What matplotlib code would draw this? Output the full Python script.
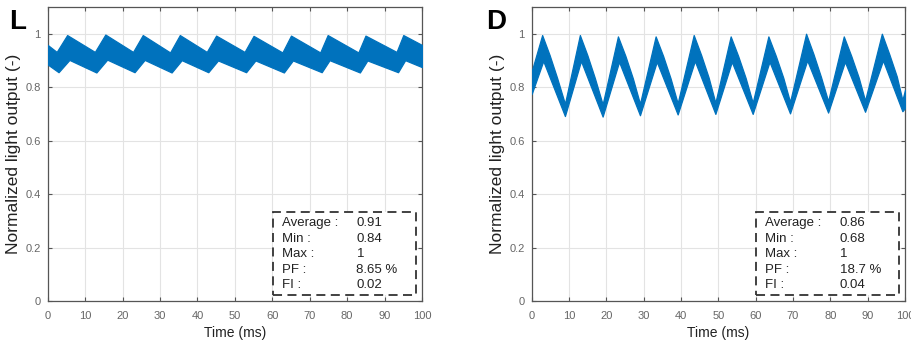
import matplotlib
matplotlib.use("Agg")
import matplotlib.pyplot as plt
from matplotlib.patches import Rectangle
import numpy as np

plt.rcParams['font.family'] = ['Liberation Sans', 'DejaVu Sans']

# ---------------- data ----------------
# Panel L: envelope of the noisy light output (top / bottom edges of the band)
L_t_top = [0, 2.4, 5.2, 12.6, 15.4, 22.8, 25.4, 32.7, 35.3, 42.5, 45.0,
           52.6, 55.0, 62.7, 65.0, 72.8, 74.8, 83.0, 84.9, 93.2, 95.0, 100]
L_top = [0.958, 0.932, 0.995, 0.932, 0.997, 0.932, 0.995, 0.930, 0.995, 0.932, 0.993,
         0.932, 0.992, 0.930, 0.993, 0.930, 0.995, 0.930, 0.993, 0.932, 0.995, 0.958]
L_t_bot = [0, 2.9, 5.8, 13.0, 15.9, 23.2, 25.9, 33.1, 35.8, 42.9, 45.5,
           53.0, 55.5, 63.1, 65.5, 73.2, 75.3, 83.4, 85.4, 93.6, 95.5, 100]
L_bot = [0.885, 0.856, 0.902, 0.855, 0.903, 0.856, 0.902, 0.855, 0.901, 0.856, 0.900,
         0.856, 0.900, 0.855, 0.900, 0.856, 0.901, 0.855, 0.900, 0.856, 0.901, 0.875]

# Panel D
D_t_top = [0,
           2.8, 4.8, 6.8, 8.9,
           12.9, 14.9, 16.9, 19.0,
           23.1, 25.1, 27.1, 29.0,
           33.2, 35.2, 37.2, 39.1,
           43.4, 45.4, 47.4, 49.2,
           53.3, 55.3, 57.3, 59.2,
           63.4, 65.4, 67.4, 69.2,
           73.5, 75.5, 77.5, 79.4,
           83.6, 85.6, 87.6, 89.3,
           93.8, 95.8, 97.8, 99.3,
           100]
D_top = [0.860,
         0.995, 0.920, 0.835, 0.738,
         0.995, 0.920, 0.835, 0.736,
         0.990, 0.917, 0.833, 0.738,
         0.990, 0.917, 0.833, 0.740,
         0.995, 0.920, 0.836, 0.742,
         0.990, 0.917, 0.835, 0.742,
         0.990, 0.917, 0.835, 0.745,
         1.000, 0.923, 0.838, 0.748,
         0.990, 0.917, 0.836, 0.750,
         1.000, 0.923, 0.840, 0.752,
         0.790]
D_t_bot = [0, 3.1, 8.9, 13.2, 19.0, 23.4, 29.0, 33.5, 39.1, 43.7, 49.2,
           53.6, 59.2, 63.7, 69.2, 73.8, 79.4, 83.9, 89.3, 94.1, 99.3, 100]
D_bot = [0.775, 0.898, 0.692, 0.898, 0.690, 0.895, 0.695, 0.895, 0.698, 0.898, 0.700,
         0.895, 0.700, 0.895, 0.702, 0.900, 0.705, 0.895, 0.708, 0.900, 0.710, 0.722]

stat_labels = ["Average :", "Min :", "Max :", "PF :", "FI :"]
L_stats = ["0.91", "0.84", "1", "8.65 %", "0.02"]
D_stats = ["0.86", "0.68", "1", "18.7 %", "0.04"]

x_ticks = list(range(0, 101, 10))
y_ticks = [0, 0.2, 0.4, 0.6, 0.8, 1]
y_tick_labels = ["0", "0.2", "0.4", "0.6", "0.8", "1"]

panels = [
    ("L", L_t_top, L_top, L_t_bot, L_bot, L_stats),
    ("D", D_t_top, D_top, D_t_bot, D_bot, D_stats),
]

# ---------------- figure ----------------
fig = plt.figure(figsize=(9.12, 3.44), dpi=100)
W, H = 912, 344
ax_rects = [(47.7, 7, 374.3, 294), (531.7, 7, 373.3, 294)]
letter_x = [17.5, 496]

blue = "#0072BD"
spine_c = "#555555"
tick_c = "#666666"

for (name, tt, top, tb, bot, stats), (x0, y0, w, h), lx in zip(panels, ax_rects, letter_x):
    ax = fig.add_axes([x0 / W, 1 - (y0 + h) / H, w / W, h / H])
    grid = np.unique(np.concatenate([tt, tb]))
    up = np.interp(grid, tt, top)
    lo = np.interp(grid, tb, bot)
    ax.fill_between(grid, lo, up, color=blue, linewidth=0.9, edgecolor=blue, zorder=3)

    ax.set_xlim(0, 100)
    ax.set_ylim(0, 1.1)
    ax.set_xticks(x_ticks)
    ax.set_yticks(y_ticks)
    ax.set_yticklabels(y_tick_labels)
    ax.grid(True, color="#e3e3e3", linewidth=0.8, zorder=0)
    ax.set_axisbelow(True)
    ax.tick_params(direction="in", length=3, width=0.8, colors=spine_c,
                   labelcolor=tick_c, labelsize=8, top=True, right=True)
    ax.tick_params(axis="x", pad=7)
    ax.tick_params(axis="y", pad=5)
    for s in ax.spines.values():
        s.set_color(spine_c)
        s.set_linewidth(0.9)
    ax.set_xlabel("Time (ms)", fontsize=10, color="#222222", labelpad=4)
    ax.set_ylabel("Normalized light output (-)", fontsize=12.5, color="#222222", labelpad=3)

    # stats box
    ax.add_patch(Rectangle((60.2, 0.022), 38.3, 0.31, facecolor="white",
                           edgecolor="#333333", linewidth=1.3,
                           linestyle=(0, (5, 3)), zorder=5))
    ys = [0.29, 0.232, 0.174, 0.117, 0.058]
    for lab, val, yy in zip(stat_labels, stats, ys):
        ax.text(62.6, yy, lab, fontsize=9.5, color="#222222", va="center", ha="left", zorder=6)
        ax.text(82.5, yy, val, fontsize=9.5, color="#222222", va="center", ha="left", zorder=6)

    # panel letter
    fig.text(lx / W, 1 - 22 / H, name, fontsize=20, fontweight="bold",
             ha="center", va="center", color="black")

fig.savefig("out.png", dpi=100)
